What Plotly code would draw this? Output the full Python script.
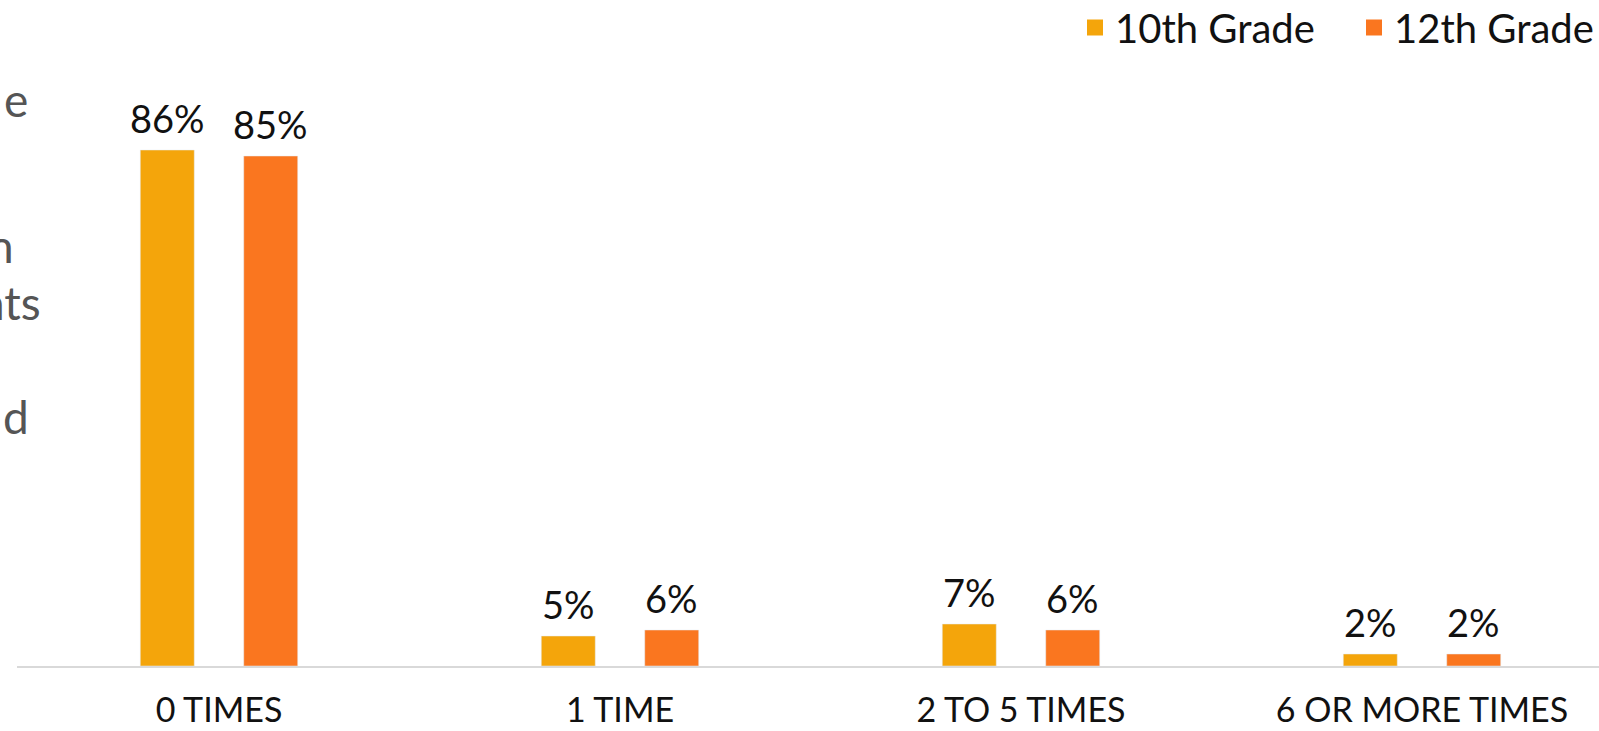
import plotly.graph_objects as go

categories = ["0 TIMES", "1 TIME", "2 TO 5 TIMES", "6 OR MORE TIMES"]
grade10 = [86, 5, 7, 2]
grade12 = [85, 6, 6, 2]
series_names = ["10th Grade", "12th Grade"]
side_text = ["e", "n", "nts", "d"]

C10 = "#F4A50B"
C12 = "#FA761F"
FONT = "Lato"

W, H = 1599, 731
ml, mb = 17, 65
plot_w = W - ml
plot_h = H - mb
cat_px = 401
first_center = 219
x0 = -(first_center - ml) / cat_px
x1 = x0 + plot_w / cat_px
bargap, bargroupgap = 0.484, 0.478
slot_px = cat_px * (1 - bargap) / 2
ytop = plot_h / 6.0

fig = go.Figure()
for name, vals, col, sgn in [(series_names[0], grade10, C10, -1), (series_names[1], grade12, C12, 1)]:
    fig.add_trace(go.Bar(x=categories, y=vals, name=name, marker_color=col,
                         hoverinfo="x+y", showlegend=False))
    # legend entry with a larger square marker
    fig.add_trace(go.Scatter(x=[None], y=[None], name=name, mode="markers",
                             marker=dict(symbol="square", size=18, color=col)))
    for c, v in zip(categories, vals):
        fig.add_annotation(x=c, y=v, text=f"{v}%", showarrow=False, yanchor="bottom",
                           xshift=sgn * slot_px / 2, yshift=7,
                           font=dict(family=FONT, size=38, color="#111111"))

fig.update_layout(
    width=W, height=H,
    margin=dict(l=ml, r=0, t=0, b=mb, autoexpand=False),
    paper_bgcolor="white", plot_bgcolor="white",
    barmode="group", bargap=bargap, bargroupgap=bargroupgap,
    showlegend=True,
    legend=dict(orientation="h", x=1 + 34 / plot_w, xanchor="right",
                y=1 + 5 / plot_h, yanchor="top",
                font=dict(family=FONT, size=40, color="#111111"),
                entrywidth=234, entrywidthmode="pixels",
                bgcolor="rgba(0,0,0,0)", traceorder="normal"),
    xaxis=dict(range=[x0, x1], showgrid=False, showline=True, linecolor="#D9D9D9",
               linewidth=2, ticks="", ticklabelstandoff=13, automargin=False,
               tickfont=dict(family=FONT, size=34, color="#111111")),
    yaxis=dict(range=[0, ytop], visible=False, showgrid=False, automargin=False),
)

# partial side text from adjacent slide content
side_y = [100, 245, 302, 416]
side_x = [30, 16, 43, 31]
for t, xp, yp in zip(side_text, side_x, side_y):
    fig.add_annotation(text=t, xref="paper", yref="paper",
                       x=(xp - ml) / plot_w, y=1 - yp / plot_h,
                       xanchor="right", yanchor="middle", showarrow=False,
                       font=dict(family=FONT, size=46, color="#555555"))

fig.write_html("out.html", config={"displayModeBar": False},
               post_script="document.body.style.margin='0';document.body.style.overflow='hidden';")
